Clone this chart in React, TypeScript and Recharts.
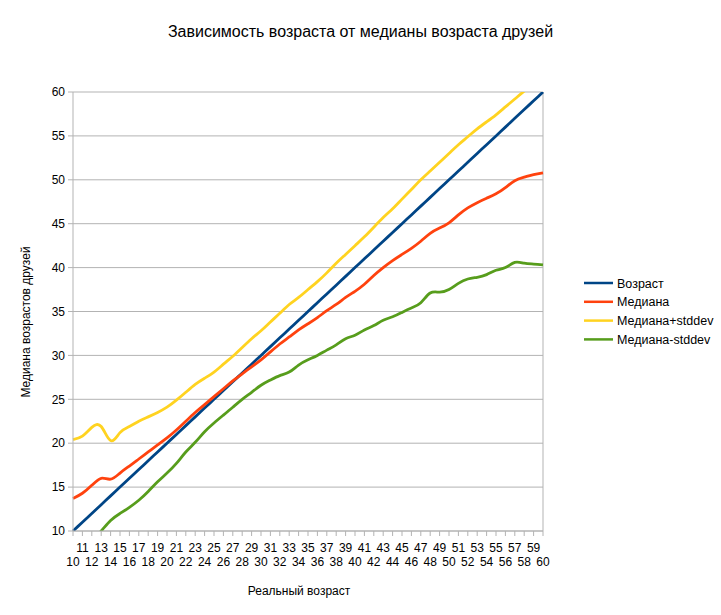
import React from "react";
import { LineChart, Line, XAxis, YAxis, CartesianGrid, ReferenceLine, Legend } from "recharts";

const ages = [10,11,12,13,14,15,16,17,18,19,20,21,22,23,24,25,26,27,28,29,30,31,32,33,34,35,36,37,38,39,40,41,42,43,44,45,46,47,48,49,50,51,52,53,54,55,56,57,58,59,60];
const vozrast = [10,11,12,13,14,15,16,17,18,19,20,21,22,23,24,25,26,27,28,29,30,31,32,33,34,35,36,37,38,39,40,41,42,43,44,45,46,47,48,49,50,51,52,53,54,55,56,57,58,59,60];
const mediana = [13.7,14.3,15.2,16.0,15.9,16.6,17.4,18.2,19.0,19.8,20.6,21.5,22.5,23.5,24.4,25.3,26.2,27.1,27.9,28.7,29.5,30.4,31.3,32.1,32.9,33.6,34.3,35.1,35.8,36.6,37.3,38.1,39.1,40.0,40.8,41.5,42.2,43.0,43.9,44.5,45.1,46.0,46.8,47.4,47.9,48.4,49.1,49.9,50.3,50.6,50.8];
const medianaPlus = [20.4,20.8,21.8,21.9,20.3,21.2,21.9,22.5,23.0,23.5,24.1,24.9,25.8,26.7,27.4,28.1,29.0,29.9,30.9,31.9,32.8,33.8,34.8,35.8,36.6,37.5,38.4,39.4,40.5,41.5,42.5,43.5,44.6,45.7,46.7,47.8,48.9,50.0,51.0,52.0,53.0,54.0,54.9,55.8,56.6,57.4,58.3,59.2,60.1,60.9,61.6];
const medianaMinus = [7.0,7.8,8.9,10.0,11.2,12.0,12.7,13.5,14.5,15.6,16.6,17.7,19.0,20.1,21.3,22.3,23.2,24.1,25.0,25.8,26.6,27.2,27.7,28.1,28.9,29.5,30.0,30.6,31.2,31.9,32.3,32.9,33.4,34.0,34.4,34.9,35.4,36.0,37.1,37.2,37.5,38.2,38.7,38.9,39.2,39.7,40.0,40.6,40.5,40.4,40.3];
const yTicks = [10,15,20,25,30,35,40,45,50,55,60];

const seriesNames = ["Возраст", "Медиана", "Медиана+stddev", "Медиана-stddev"];
const seriesKeys = ["vozrast", "mediana", "plus", "minus"];
const seriesColors = ["#004586", "#ff420e", "#ffd320", "#579d1c"];

const data = ages.map((a, i) => ({
  age: a,
  vozrast: vozrast[i],
  mediana: mediana[i],
  plus: medianaPlus[i],
  minus: medianaMinus[i],
}));

const FONT = "'Liberation Sans', Arial, sans-serif";

const XTick = (props: any) => {
  const { x, y, payload, index } = props;
  const top = index % 2 === 1;
  return (
    <text x={x} y={y} dy={top ? 14 : 28} textAnchor="middle" fontSize={12} fontFamily={FONT} fill="#000">
      {payload.value}
    </text>
  );
};

const LegendContent = () => (
  <svg width={140} height={80}>
    {seriesNames.map((n, i) => (
      <g key={n}>
        <line x1={7} x2={36} y1={11 + i * 18.8} y2={11 + i * 18.8} stroke={seriesColors[i]} strokeWidth={2.5} />
        <text x={40} y={11 + i * 18.8} dy={4.5} fontSize={12.5} fontFamily={FONT} fill="#000">{n}</text>
      </g>
    ))}
  </svg>
);

export default function App() {
  return (
    <div style={{ position: "absolute", left: 0, top: 0, width: 721, height: 615, background: "#fff", fontFamily: FONT }}>
      <div style={{ position: "absolute", left: 0, width: 721, top: 23, textAlign: "center", fontSize: 16, color: "#000" }}>
        Зависимость возраста от медианы возраста друзей
      </div>
      <div style={{ position: "absolute", left: 199, top: 584, width: 200, textAlign: "center", fontSize: 12, color: "#000" }}>
        Реальный возраст
      </div>
      <div style={{ position: "absolute", left: 27 - 100, top: 322 - 8, width: 200, textAlign: "center", fontSize: 12, color: "#000", transform: "rotate(-90deg)", transformOrigin: "100px 8px" }}>
        Медиана возрастов друзей
      </div>
      <LineChart width={721} height={615} data={data} margin={{ top: 92, right: 178, left: 33, bottom: 54 }}>
        <CartesianGrid vertical={false} stroke="#b3b3b3" />
        <XAxis
          dataKey="age"
          interval={0}
          tick={<XTick />}
          tickSize={5}
          stroke="#b3b3b3"
          tickLine={{ stroke: "#b3b3b3" }}
          axisLine={{ stroke: "#b3b3b3" }}
          height={30}
        />
        <YAxis
          domain={[10, 60]}
          ticks={yTicks}
          allowDataOverflow
          width={40}
          tickSize={5}
          tickMargin={3}
          stroke="#b3b3b3"
          tick={{ fill: "#000", fontSize: 12, fontFamily: FONT }}
        />
        <ReferenceLine x={60} stroke="#b3b3b3" />
        <Legend
          layout="horizontal"
          verticalAlign="middle"
          align="center"
          content={<LegendContent />}
          wrapperStyle={{ position: "absolute", left: 577, top: 272, width: 140, height: 80 }}
        />
        {seriesKeys.map((k, i) => (
          <Line
            key={k}
            type="natural"
            dataKey={k}
            name={seriesNames[i]}
            stroke={seriesColors[i]}
            strokeWidth={2.8}
            dot={false}
            activeDot={false}
            isAnimationActive={false}
          />
        ))}
      </LineChart>
    </div>
  );
}
